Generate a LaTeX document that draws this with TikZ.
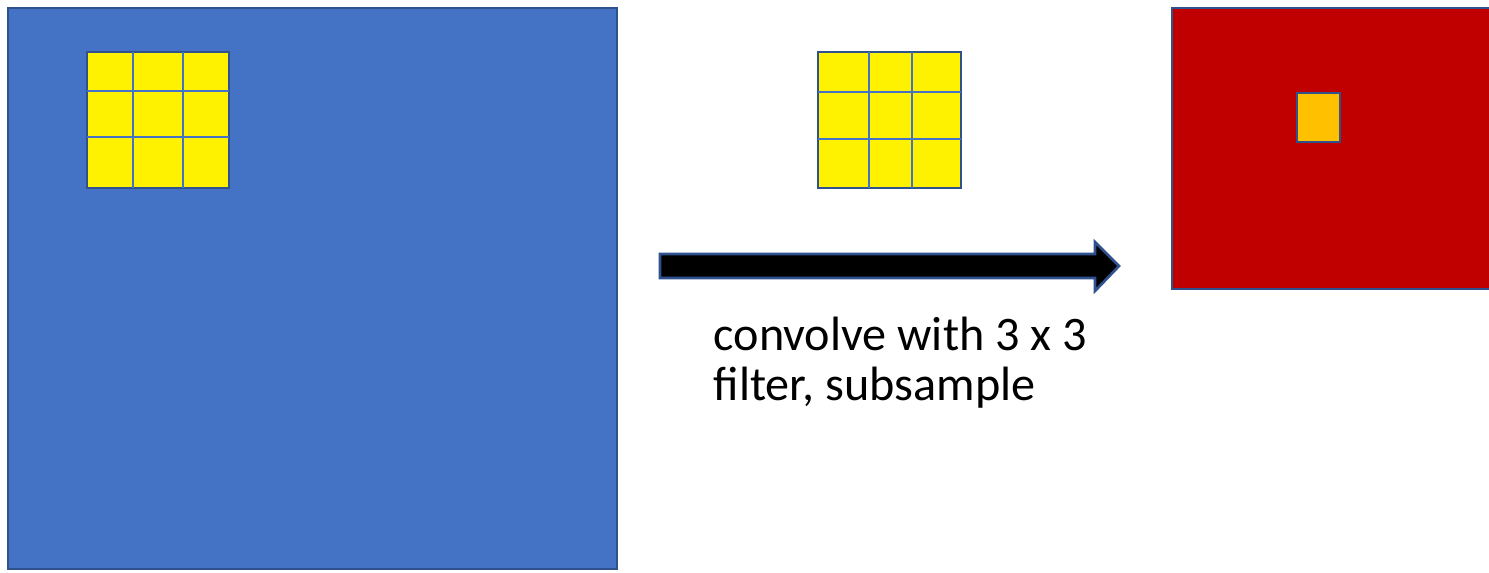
\documentclass[tikz,border=0pt]{standalone}
\usepackage{fontspec}
\setmainfont{Carlito}
\usepackage{xcolor}
\usepackage{tikz}
\usetikzlibrary{positioning}

\definecolor{inblue}{HTML}{4472C4}
\definecolor{edgeblue}{HTML}{2F528F}
\definecolor{outred}{HTML}{C00000}
\definecolor{pixorange}{HTML}{FFC000}

\begin{document}
\begin{tikzpicture}[x=0.01cm,y=-0.01cm,
    layer/.style={draw=edgeblue,line width=0.75pt},
    kernel/.style={draw=edgeblue,line width=0.75pt,fill=yellow},
    cellline/.style={draw=inblue,line width=0.4pt}]
    \useasboundingbox (0,0) rectangle (1489,572);

    % Input image on the left
    \draw[layer,fill=inblue] (8,8) rectangle (617,569);
    \draw[kernel] (87,52) rectangle (229,188);
    \foreach \x in {133,183} {
        \draw[cellline] (\x,52) -- (\x,188);
    }
    \foreach \y in {91,137} {
        \draw[cellline] (87,\y) -- (229,\y);
    }

    % The filter itself
    \draw[kernel] (818,52) rectangle (961,188);
    \foreach \x in {869,912} {
        \draw[cellline] (\x,52) -- (\x,188);
    }
    \foreach \y in {92,139} {
        \draw[cellline] (818,\y) -- (961,\y);
    }

    % Block arrow in the middle
    \draw[layer,fill=black]
        (660,254) -- (1095,254) -- (1095,242) -- (1119,266)
        -- (1095,291) -- (1095,278) -- (660,278) -- cycle;
    % (base of the last line)
    \node[anchor=base west,align=left,font=\fontsize{13.7pt}{14.2pt}\selectfont,inner sep=0pt]
        (caption) at (713,400) {convolve with 3 x 3\\filter, subsample};

    % Output map on the right
    \draw[layer,fill=outred] (1172,8) rectangle (1495,289);
    \draw[layer,fill=pixorange] (1297,93) rectangle (1340,142);

\end{tikzpicture}
\end{document}
